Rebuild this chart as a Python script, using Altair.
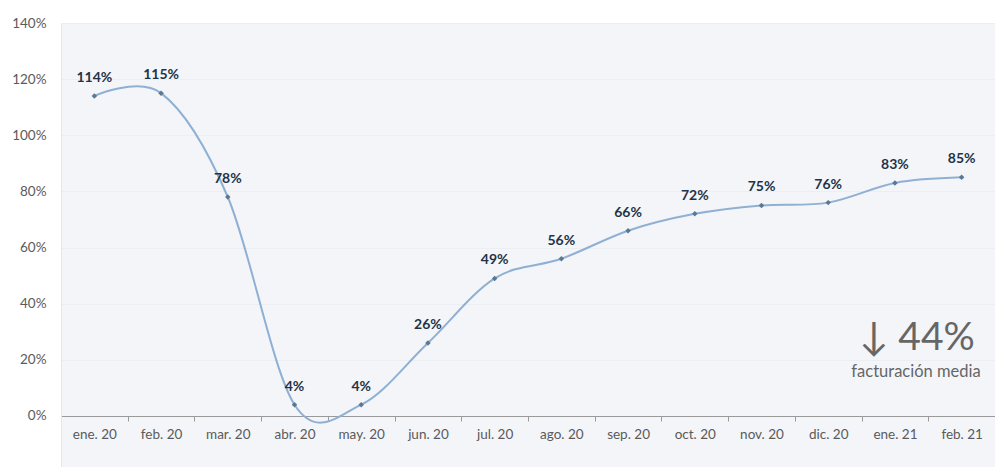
import altair as alt
import pandas as pd

months = ["ene. 20", "feb. 20", "mar. 20", "abr. 20", "may. 20", "jun. 20", "jul. 20",
          "ago. 20", "sep. 20", "oct. 20", "nov. 20", "dic. 20", "ene. 21", "feb. 21"]
values = [114, 115, 78, 4, 4, 26, 49, 56, 66, 72, 75, 76, 83, 85]
y_ticks = [-20, 0, 20, 40, 60, 80, 100, 120, 140]

df = pd.DataFrame({"mes": months, "valor": values})
df["label"] = df["valor"].astype(str) + "%"

W, H = 934, 444
YMIN, YMAX = -18.2, 140
zero_offset = -round(H * (0 - YMIN) / (YMAX - YMIN))

x_enc = alt.X("mes:N", sort=months, title=None,
              scale=alt.Scale(paddingInner=0, paddingOuter=0),
              axis=alt.Axis(offset=zero_offset, labelAngle=0, domainColor="#9a9a9a",
                            tickColor="#9a9a9a", tickSize=5, tickBand="extent",
                            labelColor="#5a5a5a", labelFontSize=13.5, labelPadding=6,
                            labelFont="Lato", grid=False))
y_enc = alt.Y("valor:Q", title=None,
              scale=alt.Scale(domain=[YMIN, YMAX], nice=False, zero=False),
              axis=alt.Axis(values=y_ticks, labelExpr="datum.value + '%'", tickSize=0,
                            labelPadding=15, labelColor="#5a5a5a", labelFontSize=13.5,
                            labelFont="Lato", domain=True, domainColor="#e3e6eb",
                            grid=True, gridColor="#e9ecf1", gridWidth=0.8))

base = alt.Chart(df)

line = base.mark_line(interpolate="cardinal", tension=0, color="#8fb0d3", strokeWidth=2).encode(
    x=x_enc, y=y_enc)
points = base.mark_point(filled=True, shape="diamond", size=30, color="#5b7893", opacity=1).encode(
    x=alt.X("mes:N", sort=months), y="valor:Q")
labels = base.mark_text(dy=-18, font="Lato", fontWeight="bold", fontSize=14,
                        color="#1f3347").encode(
    x=alt.X("mes:N", sort=months), y="valor:Q", text="label:N")

annot_big = alt.Chart(pd.DataFrame({"t": ["\u2193 44%"]})).mark_text(
    font="Lato", fontSize=39, color="#666666", align="center", baseline="middle").encode(
    x=alt.value(856), y=alt.value(315), text="t:N")
annot_small = alt.Chart(pd.DataFrame({"t": ["facturación media"]})).mark_text(
    font="Lato", fontSize=16.5, color="#666666", align="center", baseline="middle").encode(
    x=alt.value(855), y=alt.value(349), text="t:N")

chart = alt.layer(line, points, labels, annot_big, annot_small).properties(
    width=W, height=H,
    autosize=alt.AutoSizeParams(type="none"),
    padding={"left": 53, "top": 15, "right": 0, "bottom": 0},
    background="white",
).configure_view(fill="#f3f5f9", stroke=None)

chart.save("out.html", embed_options={"renderer": "svg", "actions": False})
